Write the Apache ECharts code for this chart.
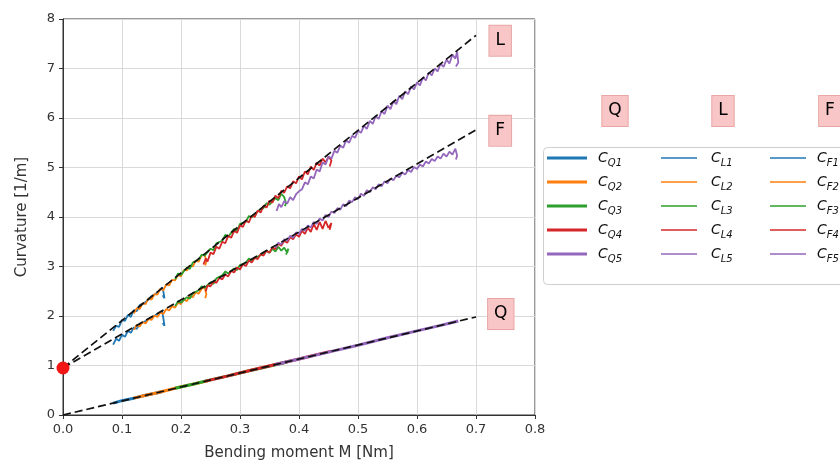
<!DOCTYPE html>
<html>
<head>
<meta charset="utf-8">
<script src="https://cdn.jsdelivr.net/npm/echarts@6/dist/echarts.min.js"></script>
<style>
  html, body { margin: 0; padding: 0; background: #fff; }
  #chart { width: 840px; height: 470px; }
</style>
</head>
<body>
<div id="chart"></div>
<script>
// ---- data: [bending moment M, curvature] pairs ----

// Q family (sits on the low dashed line)
var Q1 = [[0.085,0.24],[0.10,0.29],[0.12,0.34],[0.14,0.40],[0.16,0.45],[0.17,0.48]];
var Q2 = [[0.12,0.34],[0.14,0.40],[0.16,0.45],[0.18,0.51],[0.20,0.57],[0.22,0.62],[0.245,0.69]];
var Q3 = [[0.19,0.54],[0.22,0.62],[0.25,0.71],[0.28,0.79],[0.31,0.88],[0.34,0.96],[0.38,1.07]];
var Q4 = [[0.24,0.68],[0.28,0.79],[0.32,0.91],[0.36,1.02],[0.40,1.13],[0.43,1.22],[0.455,1.29]];
var Q5 = [[0.36,1.02],[0.40,1.13],[0.45,1.27],[0.50,1.41],[0.55,1.56],[0.60,1.70],[0.64,1.81],[0.67,1.90]];

// L family (steep line)
var L1 = [[0.085,1.70],[0.09,1.80],[0.095,1.78],[0.10,1.92],[0.105,1.90],[0.11,2.02],[0.115,1.98],[0.12,2.12],
  [0.125,2.10],[0.13,2.22],[0.14,2.28],[0.15,2.40],[0.16,2.47],[0.168,2.58],[0.17,2.50],[0.172,2.36],[0.169,2.42]];
var L2 = [[0.12,2.05],[0.125,2.16],[0.13,2.14],[0.135,2.26],[0.14,2.24],[0.145,2.36],[0.15,2.33],[0.155,2.44],
  [0.16,2.43],[0.165,2.55],[0.17,2.52],[0.175,2.64],[0.18,2.62],[0.185,2.73],[0.19,2.72],[0.195,2.83],[0.20,2.80],
  [0.205,2.93],[0.21,2.92],[0.215,3.02],[0.22,3.00],[0.225,3.12],[0.23,3.10],[0.235,3.22],[0.24,3.24],[0.243,3.10],[0.241,3.02]];
var L3 = [[0.19,2.74],[0.195,2.86],[0.20,2.83],[0.21,2.98],[0.215,2.95],[0.22,3.08],[0.23,3.14],[0.235,3.24],
  [0.24,3.22],[0.25,3.36],[0.255,3.33],[0.26,3.47],[0.27,3.52],[0.275,3.64],[0.28,3.60],[0.29,3.76],[0.295,3.72],
  [0.30,3.86],[0.31,3.90],[0.315,4.02],[0.32,3.99],[0.33,4.12],[0.34,4.18],[0.345,4.28],[0.35,4.25],[0.36,4.38],
  [0.365,4.34],[0.37,4.47],[0.375,4.40],[0.378,4.28],[0.376,4.22]];
var L4 = [[0.238,3.04],[0.242,3.16],[0.245,3.10],[0.25,3.28],[0.255,3.25],[0.26,3.40],[0.265,3.36],[0.27,3.50],
  [0.275,3.47],[0.28,3.62],[0.285,3.58],[0.29,3.72],[0.295,3.68],[0.30,3.83],[0.305,3.80],[0.31,3.93],[0.315,3.89],
  [0.32,4.03],[0.325,4.00],[0.33,4.13],[0.335,4.09],[0.34,4.23],[0.345,4.19],[0.35,4.33],[0.355,4.29],[0.36,4.43],
  [0.365,4.38],[0.37,4.53],[0.375,4.49],[0.38,4.62],[0.385,4.58],[0.39,4.72],[0.395,4.68],[0.40,4.82],[0.405,4.76],
  [0.41,4.92],[0.415,4.86],[0.42,5.02],[0.425,4.95],[0.43,5.10],[0.435,5.04],[0.44,5.18],[0.445,5.10],[0.45,5.22],
  [0.455,5.14],[0.452,5.02]];
var L5 = [[0.362,4.12],[0.366,4.26],[0.37,4.20],[0.375,4.32],[0.38,4.27],[0.385,4.40],[0.39,4.34],[0.395,4.46],
  [0.40,4.52],[0.405,4.56],[0.41,4.70],[0.415,4.66],[0.42,4.82],[0.425,4.78],[0.43,4.96],[0.435,4.92],[0.44,5.10],
  [0.445,5.06],[0.45,5.22],[0.455,5.18],[0.46,5.34],[0.465,5.30],[0.47,5.44],[0.475,5.40],[0.48,5.55],[0.485,5.50],
  [0.49,5.64],[0.495,5.60],[0.50,5.74],[0.505,5.70],[0.51,5.84],[0.515,5.78],[0.52,5.94],[0.525,5.88],[0.53,6.04],
  [0.535,5.98],[0.54,6.14],[0.545,6.08],[0.55,6.25],[0.555,6.18],[0.56,6.34],[0.565,6.28],[0.57,6.45],[0.575,6.38],
  [0.58,6.54],[0.585,6.48],[0.59,6.64],[0.595,6.58],[0.60,6.72],[0.605,6.66],[0.61,6.82],[0.615,6.76],[0.62,6.92],
  [0.625,6.86],[0.63,7.00],[0.635,6.94],[0.64,7.10],[0.645,7.03],[0.65,7.18],[0.655,7.10],[0.66,7.28],[0.665,7.20],
  [0.668,7.34],[0.67,7.12],[0.666,7.04]];

// F family (middle line)
var F1 = [[0.085,1.42],[0.09,1.54],[0.095,1.50],[0.10,1.62],[0.105,1.58],[0.11,1.70],[0.115,1.66],[0.12,1.77],
  [0.125,1.74],[0.13,1.84],[0.14,1.90],[0.15,1.97],[0.16,2.04],[0.168,2.10],[0.17,1.96],[0.172,1.80],[0.169,1.86]];
var F2 = [[0.12,1.72],[0.125,1.82],[0.13,1.79],[0.135,1.88],[0.14,1.85],[0.145,1.94],[0.15,1.92],[0.155,2.01],
  [0.16,1.98],[0.165,2.07],[0.17,2.04],[0.175,2.14],[0.18,2.11],[0.185,2.20],[0.19,2.17],[0.195,2.27],[0.20,2.24],
  [0.205,2.34],[0.21,2.30],[0.215,2.41],[0.22,2.38],[0.225,2.48],[0.23,2.45],[0.235,2.55],[0.24,2.58],[0.243,2.44],[0.241,2.36]];
var F3 = [[0.19,2.20],[0.195,2.30],[0.20,2.27],[0.21,2.38],[0.215,2.35],[0.22,2.46],[0.23,2.52],[0.235,2.60],
  [0.24,2.57],[0.25,2.68],[0.255,2.65],[0.26,2.76],[0.27,2.82],[0.275,2.90],[0.28,2.86],[0.29,2.96],[0.295,2.93],
  [0.30,3.03],[0.31,3.08],[0.315,3.16],[0.32,3.12],[0.33,3.20],[0.34,3.26],[0.345,3.32],[0.35,3.28],[0.355,3.36],
  [0.36,3.30],[0.365,3.40],[0.37,3.32],[0.375,3.38],[0.38,3.28],[0.382,3.36],[0.378,3.24]];
var F4 = [[0.242,2.50],[0.245,2.62],[0.25,2.60],[0.255,2.70],[0.26,2.67],[0.265,2.77],[0.27,2.74],[0.275,2.84],
  [0.28,2.80],[0.285,2.91],[0.29,2.88],[0.295,2.98],[0.30,2.94],[0.305,3.05],[0.31,3.01],[0.315,3.12],[0.32,3.08],
  [0.325,3.18],[0.33,3.15],[0.335,3.25],[0.34,3.22],[0.345,3.32],[0.35,3.28],[0.355,3.39],[0.36,3.35],[0.365,3.46],
  [0.37,3.42],[0.375,3.52],[0.38,3.48],[0.385,3.59],[0.39,3.55],[0.395,3.65],[0.40,3.60],[0.405,3.72],[0.41,3.66],
  [0.415,3.78],[0.42,3.70],[0.425,3.86],[0.43,3.74],[0.435,3.90],[0.44,3.76],[0.445,3.92],[0.45,3.78],[0.455,3.88],[0.452,3.74]];
var F5 = [[0.36,3.38],[0.365,3.48],[0.37,3.45],[0.375,3.55],[0.38,3.52],[0.385,3.62],[0.39,3.58],[0.395,3.69],
  [0.40,3.66],[0.405,3.76],[0.41,3.72],[0.415,3.83],[0.42,3.79],[0.425,3.90],[0.43,3.86],[0.435,3.97],[0.44,3.93],
  [0.445,4.04],[0.45,4.00],[0.455,4.11],[0.46,4.08],[0.465,4.18],[0.47,4.15],[0.475,4.26],[0.48,4.22],[0.485,4.33],
  [0.49,4.30],[0.495,4.40],[0.50,4.36],[0.505,4.47],[0.51,4.43],[0.515,4.54],[0.52,4.50],[0.525,4.60],[0.53,4.56],
  [0.535,4.66],[0.54,4.62],[0.545,4.72],[0.55,4.68],[0.555,4.78],[0.56,4.74],[0.565,4.84],[0.57,4.80],[0.575,4.90],
  [0.58,4.86],[0.585,4.95],[0.59,4.91],[0.595,5.01],[0.60,4.97],[0.605,5.06],[0.61,5.02],[0.615,5.12],[0.62,5.08],
  [0.625,5.17],[0.63,5.13],[0.635,5.22],[0.64,5.18],[0.645,5.28],[0.65,5.22],[0.655,5.32],[0.66,5.26],[0.665,5.38],
  [0.668,5.24],[0.666,5.16]];

// fitted lines (dashed) and the common intercept point
var fitQ = [[0, 0], [0.7, 1.98]];
var fitL = [[0, 0.95], [0.7, 7.67]];
var fitF = [[0, 0.95], [0.7, 5.76]];
var origin = [[0, 0.95]];

// curve tags inside the plot
var tags = [[0.741, 7.56, 'L'], [0.741, 5.74, 'F'], [0.742, 2.04, 'Q']];

var xTicks = [0, 0.1, 0.2, 0.3, 0.4, 0.5, 0.6, 0.7, 0.8];
var yTicks = [0, 1, 2, 3, 4, 5, 6, 7, 8];

var colors = ['#1f77b4', '#ff7f0e', '#2ca02c', '#d62728', '#9467bd'];
var FONT = 'DejaVu Sans';

var chart = echarts.init(document.getElementById('chart'), null, { renderer: 'canvas' });

function dataSeries(name, data, color, width) {
  return {
    name: name,
    type: 'line',
    data: data,
    symbol: 'none',
    silent: true,
    lineStyle: { color: color, width: width },
    itemStyle: { color: color },
    z: 2
  };
}

function fitSeries(name, data) {
  return {
    name: name,
    type: 'line',
    data: data,
    symbol: 'none',
    silent: true,
    lineStyle: { color: '#111', width: 1.7, type: [8, 4] },
    z: 3
  };
}

var series = [];
var groups = [['Q', [Q1, Q2, Q3, Q4, Q5], 3], ['L', [L1, L2, L3, L4, L5], 1.8], ['F', [F1, F2, F3, F4, F5], 1.8]];
groups.forEach(function (g) {
  g[1].forEach(function (d, i) {
    series.push(dataSeries(g[0] + (i + 1), d, colors[i], g[2]));
  });
});
series.push(fitSeries('fitQ', fitQ));
series.push(fitSeries('fitL', fitL));
series.push(fitSeries('fitF', fitF));
series.push({
  name: 'origin',
  type: 'scatter',
  data: origin,
  symbolSize: 13,
  clip: false,
  silent: true,
  itemStyle: { color: '#f21616', opacity: 1 },
  z: 4
});
series.push({
  name: 'tags',
  type: 'scatter',
  data: tags,
  symbolSize: 0,
  silent: true,
  clip: false,
  itemStyle: { opacity: 1 },
  label: {
    show: true,
    position: 'inside',
    formatter: function (p) { return p.value[2]; },
    fontFamily: FONT,
    fontSize: 17,
    color: '#000',
    opacity: 1,
    backgroundColor: '#f8c6c6',
    borderColor: '#e8a6a6',
    borderWidth: 1,
    padding: [7, 6, 6, 6]
  },
  z: 5
});

// legend columns: plain line icons, thick for Q, thin for L/F
function legendCol(names, left, iconW, iconH, gap) {
  return {
    orient: 'vertical',
    left: left,
    top: 151,
    padding: 0,
    icon: 'rect',
    itemWidth: iconW,
    itemHeight: iconH,
    itemGap: 7,
    selectedMode: false,
    data: names,
    formatter: function (name) { return '{c|C}{s|' + name + '}'; },
    textStyle: {
      color: '#111',
      fontFamily: FONT,
      padding: [0, 0, 0, gap],
      rich: {
        c: { fontSize: 14, fontStyle: 'italic', fontFamily: FONT, color: '#111', lineHeight: 20, verticalAlign: 'middle' },
        s: { fontSize: 10, fontStyle: 'italic', fontFamily: FONT, color: '#111', lineHeight: 10, verticalAlign: 'bottom' }
      }
    }
  };
}

function tagBox(text, x, y) {
  return {
    type: 'text',
    x: x,
    y: y,
    style: {
      text: text,
      fontFamily: FONT,
      fontSize: 17,
      fill: '#000',
      backgroundColor: '#f8c6c6',
      borderColor: '#e8a6a6',
      borderWidth: 1,
      padding: [7, 6, 6, 6],
      align: 'center',
      verticalAlign: 'middle'
    },
    z: 10
  };
}

var axisText = { fontFamily: FONT, fontSize: 13, color: '#333' };

var option = {
  animation: false,
  backgroundColor: '#fff',
  grid: {
    left: 63, right: 305, top: 19, bottom: 55,
    containLabel: false,
    outerBoundsMode: 'none',
    show: true,
    borderColor: '#333',
    borderWidth: 1
  },
  xAxis: {
    type: 'value',
    min: xTicks[0],
    max: xTicks[xTicks.length - 1],
    interval: 0.1,
    name: 'Bending moment M [Nm]',
    nameLocation: 'middle',
    nameGap: 31,
    nameTextStyle: { fontFamily: FONT, fontSize: 15, color: '#333' },
    axisLine: { show: true, lineStyle: { color: '#333', width: 1 } },
    axisTick: { show: true, length: 4, lineStyle: { color: '#333' } },
    axisLabel: Object.assign({ margin: 8, formatter: function (v) { return v.toFixed(1); } }, axisText),
    splitLine: { show: true, lineStyle: { color: '#d9d9d9', width: 1 } }
  },
  yAxis: {
    type: 'value',
    min: yTicks[0],
    max: yTicks[yTicks.length - 1],
    interval: 1,
    name: 'Curvature [1/m]',
    nameLocation: 'middle',
    nameGap: 33,
    nameTextStyle: { fontFamily: FONT, fontSize: 15, color: '#333' },
    axisLine: { show: true, lineStyle: { color: '#333', width: 1 } },
    axisTick: { show: true, length: 4, lineStyle: { color: '#333' } },
    axisLabel: Object.assign({ margin: 8 }, axisText),
    splitLine: { show: true, lineStyle: { color: '#d9d9d9', width: 1 } }
  },
  legend: [
    legendCol(['Q1', 'Q2', 'Q3', 'Q4', 'Q5'], 547, 40, 3, 6),
    legendCol(['L1', 'L2', 'L3', 'L4', 'L5'], 661, 36, 1.5, 9),
    legendCol(['F1', 'F2', 'F3', 'F4', 'F5'], 770, 36, 1.5, 6)
  ],
  graphic: [
    {
      type: 'rect',
      shape: { x: 543.5, y: 147.5, width: 310, height: 137, r: 4 },
      style: { fill: '#fff', stroke: '#cfcfcf', lineWidth: 1 },
      z: -1
    },
    tagBox('Q', 615, 111),
    tagBox('L', 723, 111),
    tagBox('F', 830, 111)
  ],
  series: series
};

chart.setOption(option);
</script>
</body>
</html>
